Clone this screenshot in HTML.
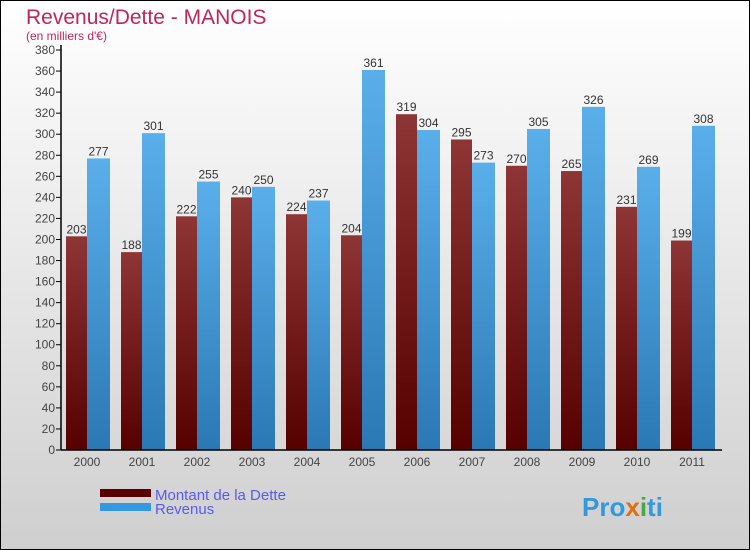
<!DOCTYPE html>
<html><head><meta charset="utf-8"><style>
body{margin:0}
#wrap{width:750px;height:550px;position:relative;overflow:hidden}
svg text{font-family:"Liberation Sans",sans-serif}
</style></head><body>
<div id="wrap">
<svg id="chart" width="750" height="550" xmlns="http://www.w3.org/2000/svg">
<defs>
<linearGradient id="bg" x1="0" y1="0" x2="0" y2="1"><stop offset="0" stop-color="#ffffff"/><stop offset="1" stop-color="#cfcfcf"/></linearGradient>
<linearGradient id="gd" x1="0" y1="0" x2="0" y2="1"><stop offset="0" stop-color="#8e3535"/><stop offset="1" stop-color="#560000"/></linearGradient>
<linearGradient id="gr" x1="0" y1="0" x2="0" y2="1"><stop offset="0" stop-color="#5aafea"/><stop offset="1" stop-color="#2a78b4"/></linearGradient>
</defs>
<rect x="0.5" y="0.5" width="749" height="549" fill="url(#bg)" stroke="#000"/>
<text x="26" y="24" font-size="21" fill="#c0255a">Revenus/Dette - MANOIS</text>
<text x="26" y="40" font-size="12" fill="#c0255a">(en milliers d'€)</text>
<g id="grid"></g><g id="bars"></g><g id="axes"></g>
<rect x="100" y="489" width="51" height="8" fill="#5a0000"/>
<rect x="100" y="503" width="51" height="8" fill="#3399e0"/>
<text x="155" y="500" font-size="15" fill="#5a5aee">Montant de la Dette</text>
<text x="155" y="514" font-size="15" fill="#5a5aee">Revenus</text>
<text x="582" y="516" font-size="26" font-weight="bold" fill="#3399dd">Pro<tspan fill="#e07010">x</tspan><tspan fill="#44aa44">i</tspan>ti</text>
</svg></div>
<script>
const years=["2000","2001","2002","2003","2004","2005","2006","2007","2008","2009","2010","2011"];
const dette=[203,188,222,240,224,204,319,295,270,265,231,199];
const revenus=[277,301,255,250,237,361,304,273,305,326,269,308];
const ticks=[0,20,40,60,80,100,120,140,160,180,200,220,240,260,280,300,320,340,360,380];
const NS="http://www.w3.org/2000/svg";
const y0=450,yTop=50,vMax=380;
const y=v=>y0-(v/vMax)*(y0-yTop);
const gx=i=>66+55*i;
function mk(t,a,p){const e=document.createElementNS(NS,t);for(const k in a)e.setAttribute(k,a[k]);p.appendChild(e);return e;}
const axes=document.getElementById('axes'),bars=document.getElementById('bars');
ticks.forEach(t=>{
 const l=mk('line',{x1:56,x2:61,y1:y(t),y2:y(t),stroke:'#000'},axes);
 
 
 const tx=mk('text',{x:55,y:y(t)+4,'font-size':12,fill:'#444','text-anchor':'end'},axes);
 tx.textContent=t;
 
 
});
const ya=mk('line',{x1:61,x2:61,y1:45,y2:450,stroke:'#000','stroke-width':1.5},axes);


const xa=mk('line',{x1:61,x2:722,y1:450,y2:450,stroke:'#000','stroke-width':1.5},axes);


years.forEach((yr,i)=>{
 const x=gx(i);
 const b1=mk('rect',{x:x,y:y(dette[i]),width:21,height:y0-y(dette[i]),fill:'url(#gd)'},bars);
 
 
 const b2=mk('rect',{x:x+21,y:y(revenus[i]),width:23,height:y0-y(revenus[i]),fill:'url(#gr)'},bars);
 
 
 const l1=mk('text',{x:x+10.5,y:y(dette[i])-3,'font-size':12,fill:'#333','text-anchor':'middle'},bars);
 l1.textContent=dette[i];
 
 
 const l2=mk('text',{x:x+32.5,y:y(revenus[i])-3,'font-size':12,fill:'#333','text-anchor':'middle'},bars);
 l2.textContent=revenus[i];
 
 
 const xl=mk('text',{x:x+21,y:466,'font-size':12,fill:'#444','text-anchor':'middle'},axes);
 xl.textContent=yr;
 
 
});
</script>
</body></html>
